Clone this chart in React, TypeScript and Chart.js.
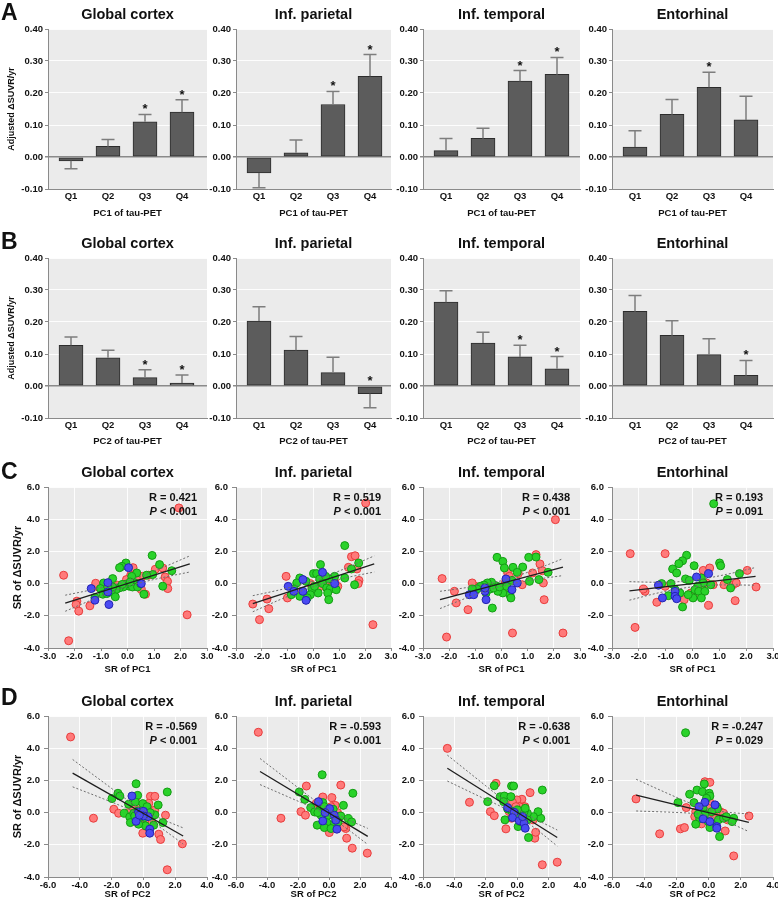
import React, { useEffect, useRef } from "react";
import { Chart, registerables } from "chart.js";

Chart.register(...registerables);

const FONT = "'Liberation Sans', Arial, Helvetica, sans-serif";

// ---------------- text ----------------
const REGIONS = ["Global cortex", "Inf. parietal", "Inf. temporal", "Entorhinal"];
const PANEL_LETTERS = ["A", "B", "C", "D"];
const QUARTILES = ["Q1", "Q2", "Q3", "Q4"];
const QUARTILE_POS = [1, 2, 3, 4];
const BAR_X_TITLES = ["PC1 of tau-PET", "PC2 of tau-PET"];
const SCATTER_X_TITLES = ["SR of PC1", "SR of PC2"];
const BAR_Y_TITLE = "Adjusted ΔSUVR/yr";
const SCATTER_Y_TITLE = "SR of ΔSUVR/yr";

// ---------------- tick labels ----------------
const BAR_Y_TICKS = [-0.1, 0, 0.1, 0.2, 0.3, 0.4];
const C_X_TICKS = [-3, -2, -1, 0, 1, 2, 3];
const D_X_TICKS = [-6, -4, -2, 0, 2, 4];
const SR_Y_TICKS = [-4, -2, 0, 2, 4, 6];

// ---------------- row A: bars by PC1 quartile (mean, SE, significance) ----------------
const A_GLOBAL_MEAN = [-0.012, 0.033, 0.110, 0.140];
const A_GLOBAL_SE = [0.025, 0.022, 0.023, 0.039];
const A_GLOBAL_STAR = [0, 0, 1, 1];
const A_PARIETAL_MEAN = [-0.050, 0.013, 0.164, 0.252];
const A_PARIETAL_SE = [0.046, 0.040, 0.041, 0.068];
const A_PARIETAL_STAR = [0, 0, 1, 1];
const A_TEMPORAL_MEAN = [0.020, 0.058, 0.237, 0.258];
const A_TEMPORAL_SE = [0.038, 0.032, 0.033, 0.053];
const A_TEMPORAL_STAR = [0, 0, 1, 1];
const A_ENTO_MEAN = [0.031, 0.133, 0.218, 0.116];
const A_ENTO_SE = [0.051, 0.047, 0.047, 0.074];
const A_ENTO_STAR = [0, 0, 1, 0];

// ---------------- row B: bars by PC2 quartile ----------------
const B_GLOBAL_MEAN = [0.127, 0.088, 0.026, 0.009];
const B_GLOBAL_SE = [0.026, 0.024, 0.025, 0.025];
const B_GLOBAL_STAR = [0, 0, 1, 1];
const B_PARIETAL_MEAN = [0.203, 0.112, 0.042, -0.024];
const B_PARIETAL_SE = [0.045, 0.043, 0.048, 0.044];
const B_PARIETAL_STAR = [0, 0, 0, 1];
const B_TEMPORAL_MEAN = [0.262, 0.134, 0.091, 0.054];
const B_TEMPORAL_SE = [0.036, 0.034, 0.036, 0.038];
const B_TEMPORAL_STAR = [0, 0, 1, 1];
const B_ENTO_MEAN = [0.233, 0.158, 0.098, 0.033];
const B_ENTO_SE = [0.050, 0.046, 0.050, 0.047];
const B_ENTO_STAR = [0, 0, 0, 1];

// ---------------- row C: SR of PC1 vs SR of ΔSUVR ----------------
const C_R = ["0.421", "0.519", "0.438", "0.193"];
const C_P = ["< 0.001", "< 0.001", "< 0.001", "= 0.091"];

const C1_RED = [[1.94,4.70],[-2.41,0.52],[-2.22,-3.55],[2.25,-1.94],[-1.91,-1.09],[-1.94,-1.30],[-1.84,-1.71],[-1.42,-1.38],[1.33,0.97],[1.42,0.41],[1.51,0.14],[1.52,-0.31],[1.05,0.89],[0.68,-0.66],[0.52,-0.37],[0.49,0.14],[0.21,0.99],[0.12,0.52],[-0.04,0.25],[0.56,0.45],[0.8,0.52],[0.33,0.31],[-0.37,-0.1],[-1.11,-0.21],[-1.2,0.02]];
const C1_GREEN = [[0.93,1.75],[-0.06,1.28],[-0.21,1.07],[-0.3,0.99],[1.21,1.18],[1.67,0.80],[1.33,-0.16],[0.62,-0.66],[0.95,0.56],[0.72,0.52],[0.35,0.66],[0.16,0.45],[0.28,0.04],[0.06,-0.16],[-0.06,-0.04],[-0.16,-0.21],[-0.31,-0.27],[-0.43,-0.37],[-0.56,0.31],[-0.9,0.04],[-1.02,-0.31],[-0.93,-0.66],[-1.23,-0.87],[-0.78,-0.62],[-0.62,-0.52],[-0.46,-0.82],[-0.56,-0.21],[-0.74,-0.21],[0.19,-0.21],[0.38,-0.21],[0.49,0.0],[0.1,0.1],[-0.2,-0.05]];
const C1_BLUE = [[0.04,0.99],[-1.37,-0.31],[-0.74,0.06],[-0.70,-1.30],[-1.23,-1.03],[-0.74,-0.52],[0.52,0.0]];
const C1_FIT = [[-2.35,-1.22],[2.35,1.22]];
const C1_CI_UP = [[-2.35,-0.72],[-1.2,-0.33],[0,0.17],[1.2,0.91],[2.35,1.72]];
const C1_CI_LO = [[-2.35,-1.72],[-1.2,-0.91],[0,-0.17],[1.2,0.33],[2.35,0.72]];

const C2_RED = [[2.02,5.0],[2.3,-2.55],[-2.35,-1.27],[-2.09,-2.24],[-1.73,-1.56],[-1.8,-0.96],[-1.01,-0.89],[-1.06,0.45],[1.47,1.67],[1.61,1.73],[1.35,1.01],[1.68,0.91],[1.76,0.2],[1.73,0.0],[0.94,-0.17],[0.65,-0.07],[0.47,0.08],[0.35,0.45],[0.24,-0.2],[-0.12,0.0],[-0.53,-0.52],[0.82,0.14]];
const C2_GREEN = [[1.21,2.36],[1.75,1.28],[1.47,0.91],[1.59,-0.07],[1.21,0.35],[0.82,0.45],[0.59,0.29],[0.27,1.18],[0.0,0.62],[0.12,0.62],[0.24,0.29],[0.47,0.45],[0.35,0.0],[0.51,-0.27],[0.65,-0.34],[0.88,-0.38],[0.55,-0.58],[0.59,-1.0],[0.18,-0.58],[-0.06,-0.34],[-0.12,-0.69],[-0.29,0.14],[-0.53,0.35],[-0.65,0.04],[-0.76,-0.34],[-0.53,-0.79],[-0.24,-0.89],[-0.86,-0.69],[0.04,-0.17]];
const C2_BLUE = [[0.35,0.7],[-0.98,-0.17],[-0.76,-0.48],[-0.41,0.25],[-0.41,-0.48],[-0.29,-1.04],[0.82,0.0]];
const C2_FIT = [[-2.35,-1.25],[2.35,1.22]];
const C2_CI_UP = [[-2.35,-0.75],[-1.2,-0.35],[0,0.16],[1.2,0.92],[2.35,1.72]];
const C2_CI_LO = [[-2.35,-1.75],[-1.2,-0.93],[0,-0.18],[1.2,0.34],[2.35,0.72]];

const C3_RED = [[2.06,3.97],[-2.27,0.31],[-2.1,-3.32],[-1.73,-1.2],[-1.28,-1.62],[-1.8,-0.48],[0.42,-3.07],[2.35,-3.07],[1.63,-1.0],[1.6,0.04],[1.47,1.22],[1.32,1.8],[1.19,0.66],[1.56,0.8],[0.79,-0.07],[0.64,0.62],[0.23,0.7],[0.3,0.45],[0.15,0.08],[0.2,-0.27],[-1.0,-0.17],[-1.12,0.04]];
const C3_GREEN = [[-0.17,1.63],[0.05,1.38],[0.11,0.97],[0.44,1.01],[0.81,1.03],[1.04,1.63],[1.32,1.65],[1.78,0.7],[1.07,0.14],[1.43,0.25],[0.6,0.7],[0.4,0.2],[0.32,-0.69],[0.36,-0.89],[0.05,-0.58],[-0.35,-1.52],[-0.14,-0.48],[-0.22,-0.13],[-0.38,0.08],[-0.54,0.04],[-0.67,-0.09],[-0.81,-0.17],[-0.94,-0.34],[-1.12,-0.34],[-0.59,-0.58],[-0.44,-0.34],[-0.3,-0.27],[-0.07,-0.21],[0.2,-0.17]];
const C3_BLUE = [[-1.23,-0.69],[-1.06,-0.69],[-0.59,-1.0],[-0.63,-0.48],[-0.63,-0.27],[0.17,0.29],[0.4,-0.38],[0.6,0.04]];
const C3_FIT = [[-2.35,-1.0],[2.35,1.02]];
const C3_CI_UP = [[-2.35,-0.48],[-1.2,-0.21],[0,0.18],[1.2,0.82],[2.35,1.55]];
const C3_CI_LO = [[-2.35,-1.55],[-1.2,-0.81],[0,-0.16],[1.2,0.23],[2.35,0.5]];

const C4_RED = [[-2.32,1.86],[-2.14,-2.72],[-1.02,1.86],[-1.33,-1.16],[-1.77,-0.48],[-1.83,-0.34],[-0.31,-1.0],[0.6,-1.35],[0.4,0.82],[0.64,0.97],[1.59,-1.06],[2.04,0.82],[2.37,-0.21],[1.51,-0.07],[1.63,0.04],[1.17,-0.07],[0.77,-0.07],[0.52,0.04],[0.33,-0.17],[0.27,-0.58],[0.09,-0.69],[-0.06,-0.58],[-1.02,-0.17]];
const C4_GREEN = [[0.79,4.96],[-0.22,1.76],[-0.37,1.42],[-0.51,1.24],[-0.74,0.91],[-0.59,0.66],[0.06,1.11],[1.01,1.28],[1.05,1.11],[1.75,0.62],[1.3,0.25],[1.42,-0.27],[0.68,-0.07],[0.33,0.35],[0.4,0.04],[0.19,-0.17],[0.09,-0.38],[0.23,-0.48],[0.46,-0.48],[0.33,-0.89],[0.02,-0.89],[-0.16,-0.69],[-0.37,-1.45],[-0.47,-0.58],[-0.65,-0.38],[-0.8,0.0],[-1.15,0.0],[-0.9,-0.75],[-0.26,0.29],[-0.12,0.2]];
const C4_BLUE = [[0.6,0.62],[0.15,0.41],[-1.27,-0.1],[-1.12,-0.89],[-0.65,-0.48],[-0.65,-0.79],[-0.59,-0.94]];
const C4_FIT = [[-2.35,-0.45],[2.35,0.45]];
const C4_CI_UP = [[-2.35,0.12],[-1.2,0.08],[0,0.2],[1.2,0.55],[2.35,1.0]];
const C4_CI_LO = [[-2.35,-1.03],[-1.2,-0.55],[0,-0.2],[1.2,-0.08],[2.35,-0.1]];

// ---------------- row D: SR of PC2 vs SR of ΔSUVR ----------------
const D_R = ["-0.569", "-0.593", "-0.638", "-0.247"];
const D_P = ["< 0.001", "< 0.001", "< 0.001", "= 0.029"];

const D1_RED = [[-4.58,4.7],[-3.14,-0.35],[1.5,-3.55],[2.45,-1.94],[-1.86,0.21],[-1.56,-0.04],[0.44,1.01],[0.72,1.01],[-0.46,0.97],[-0.55,0.82],[0.97,-1.34],[1.08,-1.67],[-0.04,-1.28],[1.39,-0.16],[0.23,0.31],[0.34,0.58],[-0.3,0.45],[-0.13,-0.16],[0.13,-0.41],[-0.68,0.37],[-0.93,0.0],[-0.4,-0.62],[0.55,-0.62],[0.72,0.16]];
const D1_GREEN = [[-0.46,1.79],[1.5,1.28],[-1.6,1.2],[-1.98,0.87],[-1.48,1.03],[-0.36,1.07],[-0.93,0.52],[-0.51,0.66],[-0.04,0.56],[0.23,0.37],[0.93,0.47],[-1.2,-0.04],[-0.86,-0.27],[-0.82,-0.62],[-0.61,-0.04],[-0.34,0.1],[-0.19,-0.21],[0.08,-0.31],[0.34,-0.16],[0.55,-0.21],[0.72,-0.14],[1.22,-0.62],[0.65,-0.78],[0.13,-0.82],[-0.3,-0.72],[-0.55,-0.21],[0.02,0.0],[0.42,0.0]];
const D1_BLUE = [[-0.72,1.03],[-0.3,0.04],[0.0,0.08],[0.3,-0.25],[-0.46,-0.54],[0.4,-1.03],[0.4,-1.28],[0.0,-0.21],[-0.25,-0.16]];
const D1_FIT = [[-4.45,2.45],[2.5,-1.45]];
const D1_CI_UP = [[-4.45,3.3],[-2.5,1.87],[-1,0.78],[0,0.15],[1.2,-0.42],[2.5,-0.95]];
const D1_CI_LO = [[-4.45,1.6],[-2.5,0.85],[-1,0.24],[0,-0.25],[1.2,-1.02],[2.5,-1.95]];

const D2_RED = [[-4.56,4.99],[-3.1,-0.35],[2.47,-2.52],[1.5,-2.21],[1.14,-1.59],[1.08,-0.99],[0.76,1.71],[0.19,0.93],[-0.4,0.97],[-1.81,0.06],[-1.52,-0.16],[-1.46,1.65],[0.4,0.45],[0.02,-1.24],[0.97,-0.89],[-0.82,0.58],[-0.55,0.41],[-0.19,0.14],[0.13,0.37],[0.55,0.0],[0.72,-0.21],[-0.3,-0.31]];
const D2_GREEN = [[-0.44,2.35],[1.54,1.2],[-1.92,1.28],[-1.56,0.82],[-1.18,0.31],[-0.93,0.04],[-0.76,-0.78],[-0.61,0.14],[-0.4,0.62],[-0.3,0.37],[0.27,0.21],[0.93,0.45],[0.76,-0.21],[1.24,-0.37],[1.46,-0.58],[0.44,-0.45],[0.13,-0.78],[-0.13,-0.62],[-0.3,-0.93],[0.13,-0.99],[-0.51,-0.16],[-0.72,0.0],[-0.02,-0.16],[0.59,-0.58]];
const D2_BLUE = [[-0.68,0.68],[0.04,0.25],[-0.25,0.0],[0.34,-0.16],[-0.4,-0.52],[0.44,-0.47],[0.51,-1.03]];
const D2_FIT = [[-4.45,2.55],[2.5,-1.48]];
const D2_CI_UP = [[-4.45,3.36],[-2.5,1.92],[-1,0.82],[0,0.17],[1.2,-0.43],[2.5,-0.98]];
const D2_CI_LO = [[-4.45,1.74],[-2.5,0.92],[-1,0.28],[0,-0.23],[1.2,-1.03],[2.5,-1.98]];

const D3_RED = [[-4.45,3.99],[-3.04,0.64],[-1.71,0.06],[-1.46,-0.19],[-1.35,1.82],[-0.72,-1.01],[1.6,-3.24],[2.55,-3.08],[1.12,-1.59],[1.18,-1.22],[0.82,1.24],[0.3,0.83],[-0.02,0.79],[-0.3,0.64],[0.49,0.37],[0.13,0.37],[-0.08,0.37],[-0.51,0.06],[0.76,-0.35],[1.01,-0.45],[0.44,-0.25],[-0.36,-0.35]];
const D3_GREEN = [[-0.36,1.65],[-0.23,1.65],[-1.46,1.67],[1.6,1.4],[-1.88,0.68],[-1.08,0.99],[-0.82,1.03],[-0.4,0.99],[-0.86,0.68],[-0.78,-0.45],[0.72,-1.55],[0.06,-0.87],[1.5,-0.35],[1.33,0.06],[1.03,-0.25],[0.65,-0.04],[0.44,0.06],[0.23,-0.04],[0.02,0.17],[-0.15,-0.04],[-0.36,0.1],[-0.61,0.23],[0.34,-0.39],[0.65,-0.45],[0.19,-0.56],[-0.08,-0.25],[0.51,0.27]];
const D3_BLUE = [[-0.61,0.31],[-0.19,0.02],[-0.3,-0.31],[0.13,-0.5],[0.44,-0.66],[0.51,-0.97],[0.34,-0.25]];
const D3_FIT = [[-4.45,2.75],[2.55,-1.55]];
const D3_CI_UP = [[-4.45,3.57],[-2.5,2.05],[-1,0.9],[0,0.22],[1.2,-0.42],[2.55,-1.08]];
const D3_CI_LO = [[-4.45,1.96],[-2.5,1.05],[-1,0.36],[0,-0.18],[1.2,-1.02],[2.55,-2.08]];

const D4_RED = [[-4.51,0.85],[-3.04,-1.32],[-1.75,-1.01],[-1.5,-0.93],[1.56,-2.69],[2.51,-0.21],[1.03,-1.14],[-0.23,1.92],[0.08,1.88],[-1.39,0.31],[-0.8,0.06],[-0.86,-0.25],[-0.44,-0.7],[-0.08,0.93],[0.08,0.64],[-0.02,0.27],[0.25,-0.04],[0.72,0.06],[0.93,-0.04],[1.18,-0.45],[0.4,-0.39],[-0.34,-0.31]];
const D4_GREEN = [[-1.43,4.96],[-0.27,1.78],[-0.72,1.4],[-0.38,1.3],[0.04,1.2],[0.08,1.03],[-1.18,1.14],[-1.9,0.62],[-0.91,0.62],[-0.13,0.89],[0.51,0.37],[0.55,0.23],[1.56,-0.35],[1.46,-0.56],[0.68,-1.49],[-0.34,0.27],[0.19,0.06],[-0.23,-0.1],[-0.55,-0.39],[-0.02,-0.56],[0.3,-0.76],[0.08,-0.93],[0.61,-0.45],[0.93,-0.35],[-0.8,-0.72],[-0.65,-0.1],[1.1,-0.25]];
const D4_BLUE = [[-0.23,0.64],[-0.59,0.37],[0.4,0.48],[-0.34,-0.39],[0.08,-0.56],[0.51,-0.87],[0.51,-0.97]];
const D4_FIT = [[-4.5,1.09],[2.5,-0.6]];
const D4_CI_UP = [[-4.5,2.07],[-2.5,1.17],[-1,0.53],[0,0.2],[1.2,0.02],[2.5,-0.08]];
const D4_CI_LO = [[-4.5,0.1],[-2.5,0.03],[-1,-0.05],[0,-0.2],[1.2,-0.6],[2.5,-1.18]];

// ---------------- layout (pixels) ----------------
const COL_X = [[48, 207], [236, 391], [423, 580], [612, 773]];
const ROW_GEOM = [
  { plotTop: 29, plotBottom: 189, xH: 32 },
  { plotTop: 258, plotBottom: 418, xH: 31 },
  { plotTop: 487, plotBottom: 648, xH: 29 },
  { plotTop: 716, plotBottom: 877, xH: 25 },
];
const LETTER_TOPS = [0.5, 230, 459.5, 686];
const TOP_PAD = 23;
const RIGHT_PAD = 16;
const BAR_SPACING = 37;
const BAR_X_START = 1 - 23 / 37;

const BG = "#ebebeb";
const GRID_WHITE = "rgba(255,255,255,0.9)";
const AXIS_GRAY = "#8a8a8a";

const RED = { bg: "#ff7a7a", border: "#e83c3c" };
const GREEN = { bg: "#2ad22a", border: "#149c14" };
const BLUE = { bg: "#4a4af2", border: "#2424b0" };

const BAR_ROWS = [
  {
    means: [A_GLOBAL_MEAN, A_PARIETAL_MEAN, A_TEMPORAL_MEAN, A_ENTO_MEAN],
    se: [A_GLOBAL_SE, A_PARIETAL_SE, A_TEMPORAL_SE, A_ENTO_SE],
    stars: [A_GLOBAL_STAR, A_PARIETAL_STAR, A_TEMPORAL_STAR, A_ENTO_STAR],
    xTitle: BAR_X_TITLES[0],
  },
  {
    means: [B_GLOBAL_MEAN, B_PARIETAL_MEAN, B_TEMPORAL_MEAN, B_ENTO_MEAN],
    se: [B_GLOBAL_SE, B_PARIETAL_SE, B_TEMPORAL_SE, B_ENTO_SE],
    stars: [B_GLOBAL_STAR, B_PARIETAL_STAR, B_TEMPORAL_STAR, B_ENTO_STAR],
    xTitle: BAR_X_TITLES[1],
  },
];

const SCATTER_ROWS = [
  {
    red: [C1_RED, C2_RED, C3_RED, C4_RED],
    green: [C1_GREEN, C2_GREEN, C3_GREEN, C4_GREEN],
    blue: [C1_BLUE, C2_BLUE, C3_BLUE, C4_BLUE],
    fit: [C1_FIT, C2_FIT, C3_FIT, C4_FIT],
    ciUp: [C1_CI_UP, C2_CI_UP, C3_CI_UP, C4_CI_UP],
    ciLo: [C1_CI_LO, C2_CI_LO, C3_CI_LO, C4_CI_LO],
    r: C_R,
    p: C_P,
    xTicks: C_X_TICKS,
    xTitle: SCATTER_X_TITLES[0],
  },
  {
    red: [D1_RED, D2_RED, D3_RED, D4_RED],
    green: [D1_GREEN, D2_GREEN, D3_GREEN, D4_GREEN],
    blue: [D1_BLUE, D2_BLUE, D3_BLUE, D4_BLUE],
    fit: [D1_FIT, D2_FIT, D3_FIT, D4_FIT],
    ciUp: [D1_CI_UP, D2_CI_UP, D3_CI_UP, D4_CI_UP],
    ciLo: [D1_CI_LO, D2_CI_LO, D3_CI_LO, D4_CI_LO],
    r: D_R,
    p: D_P,
    xTicks: D_X_TICKS,
    xTitle: SCATTER_X_TITLES[1],
  },
];

const toXY = (pts: number[][]) => pts.map(([x, y]) => ({ x, y }));
const tickFont = { family: FONT, size: 9.5, weight: "bold" as const };

function makeDecor(info: any) {
  return {
    id: "decor",
    beforeDraw(chart: any) {
      const { ctx, chartArea: a } = chart;
      ctx.save();
      ctx.fillStyle = BG;
      ctx.fillRect(a.left, a.top, a.right - a.left, a.bottom - a.top);
      ctx.restore();
    },
    afterDatasetsDraw(chart: any) {
      if (!info.errors) return;
      const { ctx } = chart;
      const meta = chart.getDatasetMeta(0);
      const ys = chart.scales.y;
      ctx.save();
      meta.data.forEach((el: any, i: number) => {
        const v = info.values[i];
        const e = info.errors[i];
        const end = v >= 0 ? v + e : v - e;
        const px = el.x;
        const p0 = ys.getPixelForValue(v);
        const p1 = ys.getPixelForValue(end);
        ctx.strokeStyle = "#7d7d7d";
        ctx.lineWidth = 1.5;
        ctx.beginPath();
        ctx.moveTo(px, p0);
        ctx.lineTo(px, p1);
        ctx.moveTo(px - 6.5, p1);
        ctx.lineTo(px + 6.5, p1);
        ctx.stroke();
        if (info.stars[i]) {
          const ref = v >= 0 ? p1 : ys.getPixelForValue(0);
          ctx.fillStyle = "#111";
          ctx.font = `bold 13px ${FONT}`;
          ctx.textAlign = "center";
          ctx.textBaseline = "alphabetic";
          ctx.fillText("*", px, ref - 1);
        }
      });
      ctx.restore();
    },
    afterDraw(chart: any) {
      const { ctx, chartArea: a } = chart;
      ctx.save();
      ctx.fillStyle = "#111";
      ctx.font = `bold 14.5px ${FONT}`;
      ctx.textAlign = "center";
      ctx.textBaseline = "middle";
      ctx.fillText(info.title, (a.left + a.right) / 2, a.top - 14);
      if (info.r) {
        const xr = a.right - 10;
        ctx.font = `bold 11px ${FONT}`;
        ctx.textAlign = "right";
        ctx.fillText(`R = ${info.r}`, xr, a.top + 11);
        const rest = ` ${info.p}`;
        ctx.fillText(rest, xr, a.top + 25);
        const w = ctx.measureText(rest).width;
        ctx.font = `italic bold 11px ${FONT}`;
        ctx.fillText("P", xr - w, a.top + 25);
      }
      ctx.restore();
    },
  };
}

function buildBarConfig(row: number, col: number) {
  const r = BAR_ROWS[row];
  const g = ROW_GEOM[row];
  const [pl, pr] = COL_X[col];
  const yW = col === 0 ? 48 : 31;
  const means = r.means[col];
  const isZero = (c: any) => c.tick && Math.abs(c.tick.value) < 1e-9;
  return {
    type: "bar",
    data: {
      datasets: [
        {
          data: QUARTILE_POS.map((q, i) => ({ x: q, y: means[i] })),
          backgroundColor: "#5c5c5c",
          borderColor: "#2c2c2c",
          borderWidth: 1,
          borderSkipped: false,
          barThickness: 24,
        },
      ],
    },
    options: {
      responsive: false,
      maintainAspectRatio: false,
      animation: false,
      devicePixelRatio: 1,
      events: [],
      layout: { padding: { top: TOP_PAD, right: RIGHT_PAD, left: 0, bottom: 0 } },
      plugins: { legend: { display: false }, tooltip: { enabled: false }, title: { display: false } },
      scales: {
        x: {
          type: "linear",
          min: BAR_X_START,
          max: BAR_X_START + (pr - pl) / BAR_SPACING,
          offset: false,
          afterBuildTicks: (s: any) => {
            s.ticks = QUARTILE_POS.map((v) => ({ value: v }));
          },
          ticks: {
            callback: (v: any) => QUARTILES[Math.round(v) - 1],
            font: tickFont,
            color: "#111",
            padding: 2,
            maxRotation: 0,
            autoSkip: false,
          },
          grid: { display: false, drawTicks: false, offset: false },
          border: { display: true, color: AXIS_GRAY, width: 1 },
          title: {
            display: true,
            text: r.xTitle,
            color: "#111",
            font: { family: FONT, size: 9.5, weight: "bold", lineHeight: "11px" },
            padding: { top: 0, bottom: 2 },
          },
          afterFit: (s: any) => {
            s.height = g.xH;
          },
        },
        y: {
          min: BAR_Y_TICKS[0],
          max: BAR_Y_TICKS[BAR_Y_TICKS.length - 1],
          afterBuildTicks: (s: any) => {
            s.ticks = BAR_Y_TICKS.map((v) => ({ value: v }));
          },
          ticks: {
            callback: (v: any) => Number(v).toFixed(2),
            font: tickFont,
            color: "#111",
            padding: 2,
          },
          grid: {
            color: (c: any) => (isZero(c) ? AXIS_GRAY : GRID_WHITE),
            lineWidth: (c: any) => (isZero(c) ? 1.5 : 1),
            tickColor: AXIS_GRAY,
            tickLength: 3,
            drawTicks: true,
          },
          border: { display: true, color: AXIS_GRAY, width: 1 },
          title: {
            display: col === 0,
            text: BAR_Y_TITLE,
            color: "#111",
            font: { family: FONT, size: 9, weight: "bold", lineHeight: "11px" },
            padding: { top: 6, bottom: 0 },
          },
          afterFit: (s: any) => {
            s.width = yW;
          },
        },
      },
    },
    plugins: [
      makeDecor({ title: REGIONS[col], values: means, errors: r.se[col], stars: r.stars[col] }),
    ],
  };
}

function buildScatterConfig(row: number, col: number) {
  const r = SCATTER_ROWS[row - 2];
  const g = ROW_GEOM[row];
  const yW = col === 0 ? 48 : 31;
  const xTicks = r.xTicks;
  const dotted = (pts: number[][]) => ({
    data: toXY(pts),
    showLine: true,
    borderColor: "#6e6e6e",
    borderWidth: 1,
    borderDash: [2, 2],
    pointRadius: 0,
    cubicInterpolationMode: "monotone",
    fill: false,
  });
  const pts = (p: number[][], c: any) => ({
    data: toXY(p),
    showLine: false,
    pointRadius: 4,
    pointBackgroundColor: c.bg,
    pointBorderColor: c.border,
    pointBorderWidth: 1,
  });
  return {
    type: "scatter",
    data: {
      datasets: [
        { data: toXY(r.fit[col]), showLine: true, borderColor: "#1e1e1e", borderWidth: 1.3, pointRadius: 0, fill: false },
        dotted(r.ciUp[col]),
        dotted(r.ciLo[col]),
        pts(r.blue[col], BLUE),
        pts(r.green[col], GREEN),
        pts(r.red[col], RED),
      ],
    },
    options: {
      responsive: false,
      maintainAspectRatio: false,
      animation: false,
      devicePixelRatio: 1,
      events: [],
      layout: { padding: { top: TOP_PAD, right: RIGHT_PAD, left: 0, bottom: 0 } },
      plugins: { legend: { display: false }, tooltip: { enabled: false }, title: { display: false } },
      scales: {
        x: {
          type: "linear",
          min: xTicks[0],
          max: xTicks[xTicks.length - 1],
          afterBuildTicks: (s: any) => {
            s.ticks = xTicks.map((v) => ({ value: v }));
          },
          ticks: {
            callback: (v: any) => Number(v).toFixed(1),
            font: tickFont,
            color: "#111",
            padding: 0,
            maxRotation: 0,
            autoSkip: false,
          },
          grid: {
            color: (c: any) => (c.tick && Math.round(c.tick.value) % 2 === 0 ? GRID_WHITE : "rgba(0,0,0,0)"),
            lineWidth: 1,
            tickColor: AXIS_GRAY,
            tickLength: 3,
          },
          border: { display: true, color: AXIS_GRAY, width: 1 },
          title: {
            display: true,
            text: r.xTitle,
            color: "#111",
            font: { family: FONT, size: 9.5, weight: "bold", lineHeight: "11px" },
            padding: { top: 0, bottom: 2 },
          },
          afterFit: (s: any) => {
            s.height = g.xH;
          },
        },
        y: {
          min: SR_Y_TICKS[0],
          max: SR_Y_TICKS[SR_Y_TICKS.length - 1],
          afterBuildTicks: (s: any) => {
            s.ticks = SR_Y_TICKS.map((v) => ({ value: v }));
          },
          ticks: {
            callback: (v: any) => Number(v).toFixed(1),
            font: tickFont,
            color: "#111",
            padding: 4,
          },
          grid: { color: GRID_WHITE, lineWidth: 1, tickColor: AXIS_GRAY, tickLength: 4 },
          border: { display: true, color: AXIS_GRAY, width: 1 },
          title: {
            display: col === 0,
            text: SCATTER_Y_TITLE,
            color: "#111",
            font: { family: FONT, size: 11, weight: "bold", lineHeight: "13px" },
            padding: { top: 11, bottom: 0 },
          },
          afterFit: (s: any) => {
            s.width = yW;
          },
        },
      },
    },
    plugins: [makeDecor({ title: REGIONS[col], r: r.r[col], p: r.p[col] })],
  };
}

type Spec = { row: number; col: number; x: number; y: number; w: number; h: number };

const SPECS: Spec[] = [];
for (let row = 0; row < 4; row++) {
  for (let col = 0; col < 4; col++) {
    const g = ROW_GEOM[row];
    const [pl, pr] = COL_X[col];
    const yW = col === 0 ? 48 : 31;
    SPECS.push({
      row,
      col,
      x: pl - yW,
      y: g.plotTop - TOP_PAD,
      w: yW + (pr - pl) + RIGHT_PAD,
      h: TOP_PAD + (g.plotBottom - g.plotTop) + g.xH,
    });
  }
}

function ChartPanel({ spec }: { spec: Spec }) {
  const ref = useRef<HTMLCanvasElement | null>(null);
  useEffect(() => {
    const cfg: any = spec.row < 2 ? buildBarConfig(spec.row, spec.col) : buildScatterConfig(spec.row, spec.col);
    const chart = new Chart(ref.current as HTMLCanvasElement, cfg);
    return () => chart.destroy();
  }, [spec]);
  return (
    <canvas
      ref={ref}
      width={spec.w}
      height={spec.h}
      style={{ position: "absolute", left: spec.x, top: spec.y, width: spec.w, height: spec.h }}
    />
  );
}

export default function App() {
  return (
    <div
      style={{
        position: "absolute",
        left: 0,
        top: 0,
        width: 778,
        height: 903,
        background: "#ffffff",
        overflow: "hidden",
      }}
    >
      {SPECS.map((s) => (
        <ChartPanel key={`${s.row}-${s.col}`} spec={s} />
      ))}
      {PANEL_LETTERS.map((l, i) => (
        <div
          key={l}
          style={{
            position: "absolute",
            left: 1,
            top: LETTER_TOPS[i],
            fontFamily: FONT,
            fontWeight: "bold",
            fontSize: 23,
            lineHeight: "23px",
            color: "#111",
          }}
        >
          {l}
        </div>
      ))}
    </div>
  );
}
